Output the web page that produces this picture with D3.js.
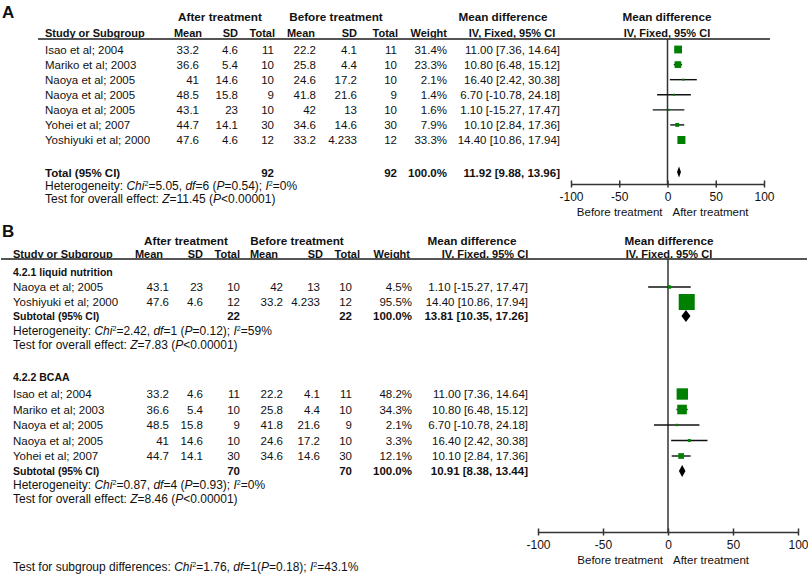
<!DOCTYPE html>
<html lang="en">
<head>
<meta charset="UTF-8">
<style>
  body { margin: 0; background: #fff; }
  text { font-family: "Liberation Sans", Arial, sans-serif; fill: #111; }
</style>
</head>
<body>
<script src="https://d3js.org/d3.v7.min.js"></script>
<script>
// ---- panel A data ----
var studiesA = ['Isao et al; 2004', 'Mariko et al; 2003', 'Naoya et al; 2005', 'Naoya et al; 2005', 'Naoya et al; 2005', 'Yohei et al; 2007', 'Yoshiyuki et al; 2000']
var meanAfterA = [33.2, 36.6, 41, 48.5, 43.1, 44.7, 47.6]
var sdAfterA = [4.6, 5.4, 14.6, 15.8, 23, 14.1, 4.6]
var nAfterA = [11, 10, 10, 9, 10, 30, 12]
var meanBeforeA = [22.2, 25.8, 24.6, 41.8, 42, 34.6, 33.2]
var sdBeforeA = [4.1, 4.4, 17.2, 21.6, 13, 14.6, 4.233]
var nBeforeA = [11, 10, 10, 9, 10, 30, 12]
var weightA = [31.4, 23.3, 2.1, 1.4, 1.6, 7.9, 33.3]
var mdA = [11.00, 10.80, 16.40, 6.70, 1.10, 10.10, 14.40]
var loA = [7.36, 6.48, 2.42, -10.78, -15.27, 2.84, 10.86]
var hiA = [14.64, 15.12, 30.38, 24.18, 17.47, 17.36, 17.94]
var totalA = {nAfter: 92, nBefore: 92, md: 11.92, lo: 9.88, hi: 13.96}

// ---- panel B data ----
var studiesB1 = ['Naoya et al; 2005', 'Yoshiyuki et al; 2000']
var meanAfterB1 = [43.1, 47.6]
var sdAfterB1 = [23, 4.6]
var nAfterB1 = [10, 12]
var meanBeforeB1 = [42, 33.2]
var sdBeforeB1 = [13, 4.233]
var nBeforeB1 = [10, 12]
var weightB1 = [4.5, 95.5]
var mdB1 = [1.10, 14.40]
var loB1 = [-15.27, 10.86]
var hiB1 = [17.47, 17.94]
var subB1 = {nAfter: 22, nBefore: 22, md: 13.81, lo: 10.35, hi: 17.26}

var studiesB2 = ['Isao et al; 2004', 'Mariko et al; 2003', 'Naoya et al; 2005', 'Naoya et al; 2005', 'Yohei et al; 2007']
var meanAfterB2 = [33.2, 36.6, 48.5, 41, 44.7]
var sdAfterB2 = [4.6, 5.4, 15.8, 14.6, 14.1]
var nAfterB2 = [11, 10, 9, 10, 30]
var meanBeforeB2 = [22.2, 25.8, 41.8, 24.6, 34.6]
var sdBeforeB2 = [4.1, 4.4, 21.6, 17.2, 14.6]
var nBeforeB2 = [11, 10, 9, 10, 30]
var weightB2 = [48.2, 34.3, 2.1, 3.3, 12.1]
var mdB2 = [11.00, 10.80, 6.70, 16.40, 10.10]
var loB2 = [7.36, 6.48, -10.78, 2.42, 2.84]
var hiB2 = [14.64, 15.12, 24.18, 30.38, 17.36]
var subB2 = {nAfter: 70, nBefore: 70, md: 10.91, lo: 8.38, hi: 13.44}

var axisTicks = [-100, -50, 0, 50, 100]

var svg = d3.select('body').append('svg')
    .attr('width', 808)
    .attr('height', 576)

function txt(x, y, s, opt) {
    opt = opt || {}
    return svg.append('text')
        .attr('x', x).attr('y', y)
        .attr('dy', '0.35em')
        .attr('text-anchor', opt.anchor || 'start')
        .attr('font-size', opt.size || 11.5)
        .attr('font-weight', opt.bold ? 'bold' : 'normal')
        .text(s)
}

// rich text: segments {t, i (italic), sup}
function rich(x, y, segs, size) {
    var t = svg.append('text').attr('x', x).attr('y', y).attr('dy', '0.35em')
        .attr('font-size', size)
    segs.forEach(function (s) {
        var sp = t.append('tspan').text(s.t)
        if (s.i) sp.attr('font-style', 'italic')
        if (s.sup) sp.attr('font-size', size * 0.6).attr('baseline-shift', 'super')
    })
}
function het(chi, df, p, i2) {
    return [{t: 'Heterogeneity: '}, {t: 'Chi', i: 1}, {t: '2', sup: 1}, {t: '=' + chi + ', '},
        {t: 'df', i: 1}, {t: '=' + df + ' ('}, {t: 'P', i: 1}, {t: '=' + p + '); '},
        {t: 'I', i: 1}, {t: '2', sup: 1}, {t: '=' + i2}]
}
function overall(z) {
    return [{t: 'Test for overall effect: '}, {t: 'Z', i: 1}, {t: '=' + z + ' ('}, {t: 'P', i: 1}, {t: '<0.00001)'}]
}
function ciText(m, l, h) {
    return m.toFixed(2) + ' [' + l.toFixed(2) + ', ' + h.toFixed(2) + ']'
}

function diamond(x, y, d, h) {
    svg.append('path')
        .attr('d', 'M' + x(d.lo) + ',' + y + 'L' + x(d.md) + ',' + (y - h / 2) + 'L' + x(d.hi) + ',' + y + 'L' + x(d.md) + ',' + (y + h / 2) + 'Z')
        .attr('fill', '#000')
}

function drawRows(rows, col, x, size) {
    rows.forEach(function (r) {
        txt(col.name, r.y, r.name)
        txt(col.mA, r.y, String(r.mA), {anchor: 'end'})
        txt(col.sA, r.y, String(r.sA), {anchor: 'end'})
        txt(col.nA, r.y, String(r.nA), {anchor: 'end'})
        txt(col.mB, r.y, String(r.mB), {anchor: 'end'})
        txt(col.sB, r.y, String(r.sB), {anchor: 'end'})
        txt(col.nB, r.y, String(r.nB), {anchor: 'end'})
        txt(col.w, r.y, r.w.toFixed(1) + '%', {anchor: 'end'})
        txt(col.ci, r.y, ciText(r.md, r.lo, r.hi), {anchor: 'end'})
        svg.append('line')
            .attr('x1', x(r.lo)).attr('x2', x(r.hi))
            .attr('y1', r.y).attr('y2', r.y)
            .attr('stroke', '#111').attr('stroke-width', 1.4)
        var s = Math.max(2, size(r.w))
        svg.append('rect')
            .attr('x', x(r.md) - s / 2).attr('y', r.y - s / 2)
            .attr('width', s).attr('height', s)
            .attr('fill', '#008000')
    })
}

function makeRows(names, mA, sA, nA, mB, sB, nB, w, md, lo, hi, y) {
    return names.map(function (n, i) {
        return {name: n, mA: mA[i], sA: sA[i], nA: nA[i], mB: mB[i], sB: sB[i], nB: nB[i],
            w: w[i], md: md[i], lo: lo[i], hi: hi[i], y: y(i)}
    })
}

function drawAxis(x, y, zeroTop) {
    svg.append('line')
        .attr('x1', x(0)).attr('x2', x(0))
        .attr('y1', zeroTop).attr('y2', y)
        .attr('stroke', '#333').attr('stroke-width', 1.5)
    var g = svg.append('g')
        .attr('transform', 'translate(0,' + y + ')')
        .call(d3.axisBottom(x).tickValues(axisTicks).tickSize(0).tickPadding(8).tickFormat(function (d) { return String(d) }))
    g.select('.domain').attr('stroke', '#333').attr('stroke-width', 1.5)
    g.selectAll('.tick line').attr('y1', -3.5).attr('y2', 3.5).attr('stroke', '#333').attr('stroke-width', 1.5)
    g.selectAll('.tick text').attr('font-size', 12).attr('fill', '#111')
        .attr('font-family', '"Liberation Sans", Arial, sans-serif')
    txt(x(0) - 5, y + 28, 'Before treatment', {anchor: 'end'})
    txt(x(0) + 5, y + 28, 'After treatment')
}

function headers(col, hx, y1, y2, lineY, lineX1, lineX2) {
    txt(hx.after, y1, 'After treatment', {anchor: 'middle', bold: 1, size: 11.7})
    txt(hx.before, y1, 'Before treatment', {anchor: 'middle', bold: 1, size: 11.7})
    txt(hx.md, y1, 'Mean difference', {anchor: 'middle', bold: 1, size: 11.7})
    txt(hx.plot, y1, 'Mean difference', {anchor: 'middle', bold: 1, size: 11.7})
    var o = {bold: 1, size: 11, anchor: 'end'}
    txt(col.name, y2, 'Study or Subgroup', {bold: 1, size: 11})
    txt(hx.mA, y2, 'Mean', o)
    txt(hx.sA, y2, 'SD', o)
    txt(hx.nA, y2, 'Total', o)
    txt(hx.mB, y2, 'Mean', o)
    txt(hx.sB, y2, 'SD', o)
    txt(hx.nB, y2, 'Total', o)
    txt(hx.w, y2, 'Weight', o)
    txt(hx.iv, y2, 'IV, Fixed, 95% CI', {anchor: 'middle', bold: 1, size: 11})
    txt(hx.plot, y2, 'IV, Fixed, 95% CI', {anchor: 'middle', bold: 1, size: 11})
    svg.append('line')
        .attr('x1', lineX1).attr('x2', lineX2)
        .attr('y1', lineY).attr('y2', lineY)
        .attr('stroke', '#555').attr('stroke-width', 2)
}

// ===== Panel A =====
var xA = d3.scaleLinear().domain([-100, 100]).range([571, 764])
var yA = d3.scaleLinear().domain([0, 6]).range([49.5, 140])
var sizeA = d3.scaleSqrt().domain([0, 100]).range([0, 13.9])
var colA = {name: 45, mA: 199, sA: 238, nA: 274, mB: 316, sB: 357, nB: 397, w: 447, ci: 560}

txt(2, 12, 'A', {bold: 1, size: 17})
headers(colA, {after: 220, before: 336, md: 503, plot: 667, mA: 202, sA: 238, nA: 275, mB: 315, sB: 357, nB: 398, w: 447, iv: 512},
    17, 33, 39, 38, 770)
drawAxis(xA, 184, 39)
drawRows(makeRows(studiesA, meanAfterA, sdAfterA, nAfterA, meanBeforeA, sdBeforeA, nBeforeA, weightA, mdA, loA, hiA, yA), colA, xA, sizeA)

txt(colA.name, 173, 'Total (95% CI)', {bold: 1})
txt(colA.nA, 173, String(totalA.nAfter), {bold: 1, anchor: 'end'})
txt(colA.nB, 173, String(totalA.nBefore), {bold: 1, anchor: 'end'})
txt(colA.w, 173, '100.0%', {bold: 1, anchor: 'end'})
txt(colA.ci, 173, ciText(totalA.md, totalA.lo, totalA.hi), {bold: 1, anchor: 'end'})
diamond(xA, 172, totalA, 11)
rich(colA.name, 186, het('5.05', 6, '0.54', '0%'), 12)
rich(colA.name, 199, overall('11.45'), 12)

// ===== Panel B =====
var xB = d3.scaleLinear().domain([-100, 100]).range([538, 798])
var yB1 = d3.scaleLinear().domain([0, 1]).range([287, 302])
var yB2 = d3.scaleLinear().domain([0, 4]).range([394, 456])
var sizeB = d3.scaleSqrt().domain([0, 100]).range([0, 16.4])
var colB = {name: 13, mA: 169, sA: 203, nA: 240, mB: 283, sB: 320, nB: 352, w: 412, ci: 528}

txt(2, 231, 'B', {bold: 1, size: 17})
headers(colB, {after: 186, before: 297, md: 472, plot: 669, mA: 163, sA: 203, nA: 240, mB: 278, sB: 323, nB: 360, w: 410, iv: 485},
    241, 254, 259, 1, 807)
drawAxis(xB, 532, 259)

txt(colB.name, 272, '4.2.1 liquid nutrition', {bold: 1, size: 10.5})
drawRows(makeRows(studiesB1, meanAfterB1, sdAfterB1, nAfterB1, meanBeforeB1, sdBeforeB1, nBeforeB1, weightB1, mdB1, loB1, hiB1, yB1), colB, xB, sizeB)
txt(colB.name, 316, 'Subtotal (95% CI)', {bold: 1, size: 10.5})
txt(colB.nA, 316, String(subB1.nAfter), {bold: 1, anchor: 'end'})
txt(colB.nB, 316, String(subB1.nBefore), {bold: 1, anchor: 'end'})
txt(colB.w, 316, '100.0%', {bold: 1, anchor: 'end'})
txt(colB.ci, 316, ciText(subB1.md, subB1.lo, subB1.hi), {bold: 1, anchor: 'end'})
diamond(xB, 316, subB1, 12)
rich(colB.name, 331, het('2.42', 1, '0.12', '59%'), 12)
rich(colB.name, 345, overall('7.83'), 12)

txt(colB.name, 377, '4.2.2 BCAA', {bold: 1, size: 10.5})
drawRows(makeRows(studiesB2, meanAfterB2, sdAfterB2, nAfterB2, meanBeforeB2, sdBeforeB2, nBeforeB2, weightB2, mdB2, loB2, hiB2, yB2), colB, xB, sizeB)
txt(colB.name, 471, 'Subtotal (95% CI)', {bold: 1, size: 10.5})
txt(colB.nA, 471, String(subB2.nAfter), {bold: 1, anchor: 'end'})
txt(colB.nB, 471, String(subB2.nBefore), {bold: 1, anchor: 'end'})
txt(colB.w, 471, '100.0%', {bold: 1, anchor: 'end'})
txt(colB.ci, 471, ciText(subB2.md, subB2.lo, subB2.hi), {bold: 1, anchor: 'end'})
diamond(xB, 471, subB2, 12)
rich(colB.name, 485, het('0.87', 4, '0.93', '0%'), 12)
rich(colB.name, 499, overall('8.46'), 12)

rich(colB.name, 567, [{t: 'Test for subgroup differences: '}, {t: 'Chi', i: 1}, {t: '2', sup: 1}, {t: '=1.76, '},
    {t: 'df', i: 1}, {t: '=1('}, {t: 'P', i: 1}, {t: '=0.18); '}, {t: 'I', i: 1}, {t: '2', sup: 1}, {t: '=43.1%'}], 12)
</script>
</body>
</html>
